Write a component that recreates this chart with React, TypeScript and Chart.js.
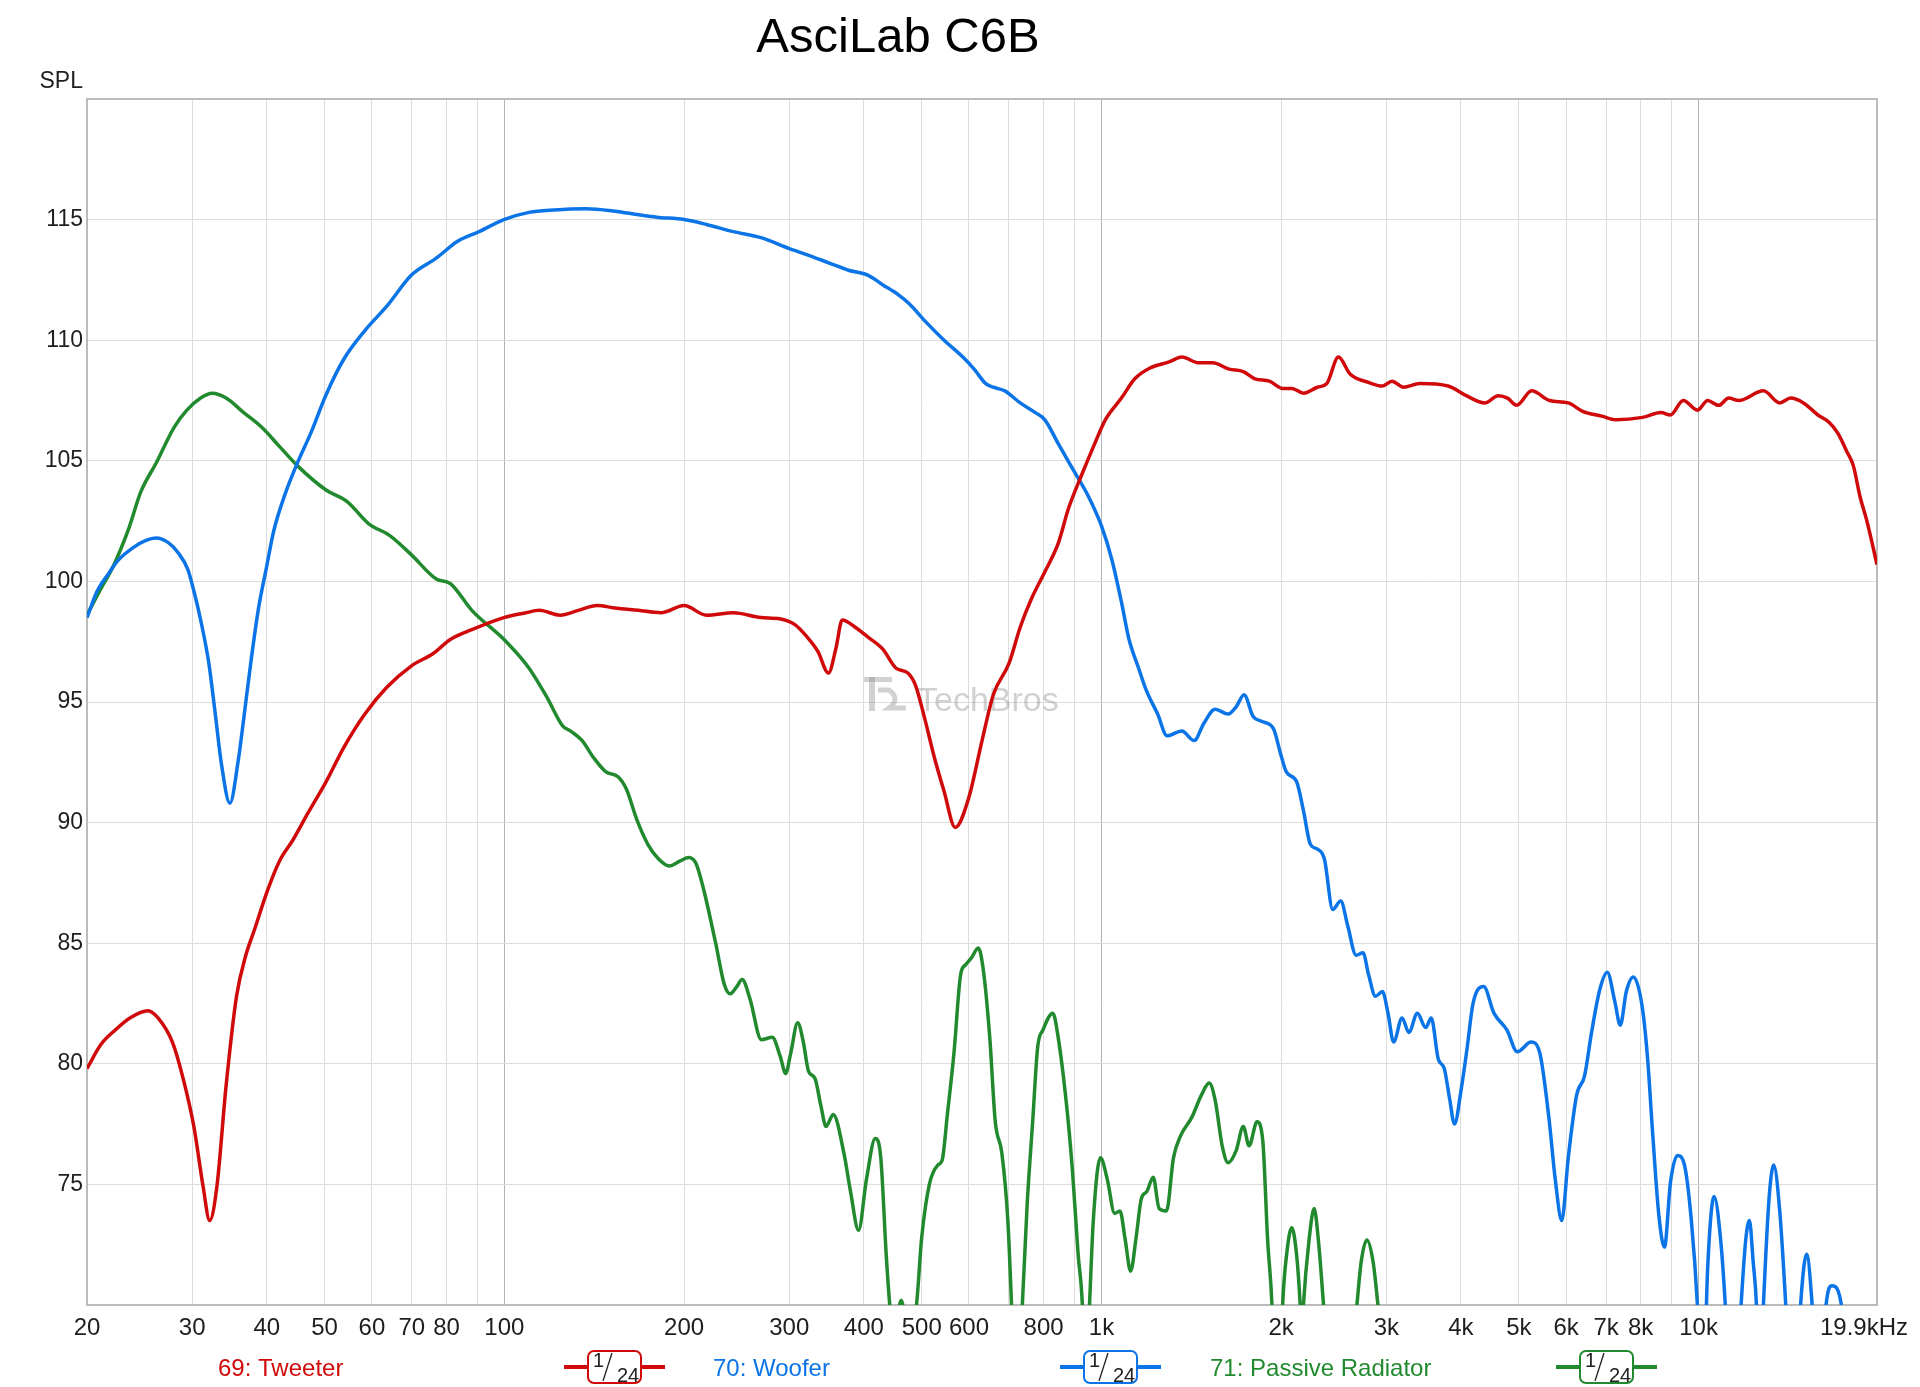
import React, { useEffect, useRef } from "react";
import Chart from "chart.js/auto";

const FONT = "'Liberation Sans', Arial, Helvetica, sans-serif";

const chartTitle = "AsciLab C6B";
const yAxisLabel = "SPL";
const seriesNames = ["69: Tweeter", "70: Woofer", "71: Passive Radiator"];
const seriesColors = ["#d00a0a", "#0b74e6", "#228a2e"];
const smoothingText = ["1", "24"];

// Tweeter
const tweeterFreq = [
  20, 21.1, 22.3, 23.6, 25.3, 26.3, 27.8, 28.9, 30.2, 31.3,
  32.1, 33, 34.2, 35.6, 36.9, 38.2, 40, 42, 44.3, 46.9,
  50.3, 53.8, 58.4, 63.5, 69.9, 75.9, 81.3, 88.2, 99.8, 108.7,
  114.4, 124, 133, 143, 153, 167.6, 183, 200, 218, 242,
  269, 289, 307, 320, 335, 349, 359, 368, 387, 406,
  430, 453, 474, 488, 506, 525, 545, 569, 599, 631,
  659, 700, 731, 764, 804, 847, 880, 926, 970, 1015,
  1080, 1137, 1206, 1298, 1363, 1456, 1536, 1636, 1728, 1807,
  1911, 2011, 2085, 2179, 2299, 2384, 2494, 2608, 2800, 2955,
  3066, 3205, 3411, 3807, 4083, 4385, 4620, 4786, 4960, 5254,
  5631, 6050, 6396, 6885, 7270, 8058, 8649, 8975, 9426, 9962,
  10356, 10810, 11236, 11677, 12842, 13675, 14259, 14985, 15846, 16537,
  17108, 17702, 18163, 18646, 19142, 19900,
];
const tweeterSpl = [
  79.8, 80.8, 81.4, 81.9, 82.2, 81.9, 80.9, 79.5, 77.4, 74.9,
  73.5, 74.9, 79.1, 82.8, 84.5, 85.6, 87.1, 88.4, 89.3, 90.4,
  91.7, 93.1, 94.5, 95.6, 96.5, 97.0, 97.6, 98.0, 98.5, 98.7,
  98.8, 98.6, 98.8, 99.0, 98.9, 98.8, 98.7, 99.0, 98.6, 98.7,
  98.5, 98.45, 98.2, 97.75, 97.1, 96.2, 97.2, 98.4, 98.1, 97.7,
  97.2, 96.4, 96.2, 95.7, 94.3, 92.7, 91.3, 89.8, 91.0, 93.4,
  95.3, 96.6, 98.1, 99.3, 100.4, 101.6, 103.0, 104.4, 105.6, 106.7,
  107.6, 108.4, 108.85, 109.1, 109.3, 109.06, 109.06, 108.8, 108.7, 108.4,
  108.3, 108.0, 108.0, 107.8, 108.05, 108.2, 109.3, 108.6, 108.25, 108.1,
  108.3, 108.05, 108.2, 108.1, 107.7, 107.4, 107.7, 107.6, 107.3, 107.9,
  107.5, 107.4, 107.05, 106.85, 106.7, 106.8, 107.0, 106.9, 107.5, 107.1,
  107.5, 107.3, 107.6, 107.5, 107.9, 107.4, 107.6, 107.4, 106.9, 106.6,
  106.15, 105.4, 104.8, 103.5, 102.5, 100.7,
];

// Woofer
const wooferFreq = [
  20, 20.8, 21.7, 22.6, 23.9, 25.1, 26.1, 27.4, 28.4, 29.5,
  30.2, 31.0, 32.0, 32.8, 33.6, 34.7, 35.8, 36.6, 37.6,
  38.7, 39.9, 41.1, 42.9, 45.0, 47.5, 50.2, 53.8, 58.4, 63.5,
  69.9, 76.9, 83.5, 90.7, 99.8, 110, 121, 137, 153, 168,
  180, 200, 218, 242, 269, 300, 325, 350, 377, 406,
  430, 456, 477, 506, 545, 586, 612, 640, 659, 689,
  731, 775, 804, 847, 898, 952, 1000, 1041, 1080, 1112,
  1154, 1188, 1242, 1288, 1363, 1430, 1483, 1550, 1630, 1681,
  1733, 1795, 1854, 1941, 1993, 2040, 2122, 2179, 2238, 2300,
  2362, 2440, 2516, 2586, 2670, 2742, 2801, 2877, 2955, 3019,
  3085, 3187, 3273, 3381, 3491, 3567, 3665, 3751, 3832, 3901,
  4007, 4094, 4191, 4367, 4543, 4777, 4970, 5243, 5415, 5613,
  5755, 5901, 6050, 6249, 6443, 6619, 6836, 7034, 7238, 7395,
  7569, 7776, 8031, 8205, 8384, 8582, 8768, 8975, 9220, 9472,
  9726, 9955, 10150, 10356, 10620, 10889, 11086, 11400, 11782, 11995,
  12168, 12344, 12502, 12650, 12842, 13123, 13359, 13675, 13997, 14400,
  14820, 15168, 15497, 15900, 16352, 16737, 17346, 18000, 19900,
];
const wooferSpl = [
  98.5, 99.6, 100.3, 100.9, 101.4, 101.7, 101.8, 101.6, 101.2, 100.5,
  99.6, 98.4, 96.6, 94.5, 92.4, 90.8, 92.5, 94.3, 96.6,
  98.8, 100.5, 102.1, 103.6, 104.9, 106.2, 107.7, 109.2, 110.4, 111.4,
  112.7, 113.4, 114.1, 114.5, 115.0, 115.3, 115.4, 115.45, 115.35, 115.2,
  115.1, 115.0, 114.8, 114.5, 114.25, 113.8, 113.5, 113.2, 112.9, 112.7,
  112.3, 111.9, 111.5, 110.8, 110.0, 109.3, 108.8, 108.2, 108.05, 107.9,
  107.4, 107.0, 106.7, 105.7, 104.6, 103.5, 102.3, 100.9, 99.15, 97.6,
  96.4, 95.5, 94.5, 93.6, 93.8, 93.4, 94.1, 94.7, 94.5, 94.8,
  95.3, 94.4, 94.2, 93.9, 92.9, 92.1, 91.7, 90.5, 89.1, 88.9,
  88.5, 86.4, 86.75, 85.7, 84.5, 84.6, 83.7, 82.8, 83.0, 82.1,
  80.9, 81.9, 81.3, 82.1, 81.5, 81.9, 80.2, 79.8, 78.5, 77.5,
  79.0, 80.6, 82.5, 83.2, 82.1, 81.4, 80.5, 80.9, 80.5, 77.8,
  75.2, 73.5, 76.1, 78.7, 79.5, 81.3, 83.1, 83.8, 82.6, 81.6,
  83.0, 83.6, 82.5, 80.4, 77.0, 73.7, 72.4, 75.1, 76.2, 75.8,
  73.5, 70.0, 65, 71.5, 74.5, 72.7, 70.0, 64, 70.0, 72.7,
  73.5, 71.8, 70.0, 66, 70.0, 74.4, 75.8, 73.9, 70.0, 64,
  70.0, 72.1, 70.0, 65, 70.0, 70.8, 70.0, 62, 60,
];

// Passive radiator
const radiatorFreq = [
  20, 21.1, 22.1, 23.5, 24.6, 26.1, 28.0, 29.4, 31.0, 32.4,
  34.2, 36.6, 39.2, 42.0, 45.0, 50.2, 54.6, 59.2, 64.3, 69.9,
  76.9, 81.3, 88.2, 99.8, 110, 117.8, 125.3, 129, 135, 141,
  148, 155, 160, 166.8, 173.9, 181.1, 188.9, 196.7, 203.6, 209.4,
  215.3, 225.9, 233.5, 239, 245, 250.2, 257.8, 269.4, 281, 289.8,
  295.9, 301.5, 309.9, 316.5, 323.1, 331.2, 338.7, 345.8, 355.4, 370.4,
  380, 391.9, 404, 418, 427, 436, 442, 448, 462, 476,
  490, 500, 515, 532, 541, 552, 566, 581, 592, 606,
  622, 634, 650, 664, 681, 697, 707, 722, 737, 751,
  767, 782, 798, 829, 845, 874, 894, 914, 929, 940,
  955, 969, 996, 1023, 1052, 1074, 1096, 1119, 1143, 1166,
  1191, 1221, 1249, 1285, 1320, 1356, 1418, 1470, 1515, 1550,
  1593, 1630, 1681, 1728, 1767, 1822, 1863, 1898, 1930, 1970,
  2011, 2047, 2083, 2122, 2152, 2165, 2179, 2227, 2271, 2308,
  2355, 2500, 2678, 2723, 2783, 2850, 2904, 3100, 19900,
];
const radiatorSpl = [
  98.6, 99.7, 100.6, 102.2, 103.7, 104.9, 106.4, 107.1, 107.6, 107.8,
  107.6, 107.0, 106.4, 105.6, 104.8, 103.8, 103.3, 102.4, 101.9, 101.1,
  100.1, 99.9, 98.8, 97.6, 96.4, 95.2, 94.0, 93.8, 93.4, 92.7,
  92.1, 91.9, 91.4, 90.1, 89.1, 88.5, 88.2, 88.4, 88.55, 88.3,
  87.3, 85.0, 83.3, 82.9, 83.2, 83.5, 82.7, 81.0, 81.1, 80.3,
  79.6, 80.4, 81.7, 80.95, 79.7, 79.4, 78.3, 77.4, 77.9, 76.3,
  74.7, 73.1, 75.2, 76.9, 76.1, 72.1, 70.0, 68.5, 70.2, 68.5,
  70.0, 72.8, 75.0, 75.8, 76.0, 77.9, 80.4, 83.7, 84.1, 84.4,
  84.8, 83.9, 81.1, 77.6, 76.3, 73.5, 70.0, 64, 70.0, 74.2,
  77.6, 80.7, 81.4, 82.1, 81.2, 78.3, 75.6, 72.1, 70.0, 66,
  70.0, 73.5, 76.1, 75.2, 73.8, 73.9, 72.7, 71.4, 72.8, 74.4,
  74.7, 75.3, 74.0, 73.9, 76.1, 77.0, 77.8, 78.7, 79.2, 78.5,
  76.6, 75.9, 76.4, 77.4, 76.6, 77.6, 76.8, 72.7, 70.0, 63,
  70.0, 72.3, 73.2, 72.1, 70.0, 68.5, 70.0, 72.7, 74.0, 72.7,
  70.0, 62, 70.0, 71.8, 72.7, 71.8, 70.0, 62, 60,
];

// axes
const gridFreqs = [
  20, 30, 40, 50, 60, 70, 80, 90, 100, 200, 300, 400, 500, 600, 700, 800, 900,
  1000, 2000, 3000, 4000, 5000, 6000, 7000, 8000, 9000, 10000, 19900,
];
const decadeFreqs = [100, 1000, 10000];
const xLabelFreqs = [
  20, 30, 40, 50, 60, 70, 80, 100, 200, 300, 400, 500, 600, 800, 1000, 2000,
  3000, 4000, 5000, 6000, 7000, 8000, 10000, 19900,
];
const xLabelTexts = [
  "20", "30", "40", "50", "60", "70", "80", "100", "200", "300", "400", "500",
  "600", "800", "1k", "2k", "3k", "4k", "5k", "6k", "7k", "8k", "10k", "19.9kHz",
];

const toPoints = (xs: number[], ys: number[]) => xs.map((x, i) => ({ x, y: ys[i] }));

// legend badge: line with the boxed 1/24 smoothing mark
function drawBadge(ctx: CanvasRenderingContext2D, x: number, color: string) {
  const y = 1367;
  ctx.strokeStyle = color;
  ctx.lineWidth = 4;
  ctx.beginPath();
  ctx.moveTo(x, y);
  ctx.lineTo(x + 101, y);
  ctx.stroke();
  const bx = x + 24;
  const by = 1351;
  ctx.beginPath();
  ctx.roundRect(bx, by, 53, 32, 6);
  ctx.fillStyle = "#fff";
  ctx.fill();
  ctx.lineWidth = 2;
  ctx.stroke();
  ctx.fillStyle = "#222";
  ctx.textAlign = "left";
  ctx.textBaseline = "alphabetic";
  ctx.font = `20px ${FONT}`;
  ctx.fillText(smoothingText[0], bx + 5, by + 16);
  ctx.strokeStyle = "#222";
  ctx.lineWidth = 1.3;
  ctx.beginPath();
  ctx.moveTo(bx + 24, by + 2);
  ctx.lineTo(bx + 15, by + 30);
  ctx.stroke();
  ctx.font = `20px ${FONT}`;
  ctx.fillText(smoothingText[1], bx + 29, by + 31);
}

const decorPlugin = {
  id: "decor",
  beforeDatasetsDraw(chart: Chart) {
    const { ctx, chartArea: a } = chart;
    ctx.save();
    // watermark
    ctx.fillStyle = "rgba(140,140,140,0.4)";
    ctx.fillRect(864, 677, 28, 5);
    ctx.fillRect(869, 677, 6, 34);
    ctx.strokeStyle = "rgba(140,140,140,0.4)";
    ctx.lineWidth = 5;
    ctx.beginPath();
    ctx.moveTo(878, 690);
    ctx.lineTo(889, 690);
    ctx.quadraticCurveTo(901, 699, 889, 708);
    ctx.lineTo(906, 708);
    ctx.stroke();
    ctx.font = `34px ${FONT}`;
    ctx.textAlign = "left";
    ctx.textBaseline = "alphabetic";
    ctx.fillText("TechBros", 917, 711);
    // frame
    ctx.strokeStyle = "#bbbbbb";
    ctx.lineWidth = 2;
    ctx.strokeRect(a.left, a.top, a.right - a.left, a.bottom - a.top);
    ctx.restore();
  },
  afterDraw(chart: Chart) {
    const { ctx } = chart;
    const xScale = chart.scales.x;
    ctx.save();
    ctx.fillStyle = "#000";
    ctx.textBaseline = "alphabetic";
    ctx.textAlign = "center";
    ctx.font = `49px ${FONT}`;
    ctx.fillText(chartTitle, 898, 52);

    ctx.fillStyle = "#1e1e1e";
    ctx.textAlign = "right";
    ctx.font = `23px ${FONT}`;
    ctx.fillText(yAxisLabel, 83, 88);

    ctx.font = `24px ${FONT}`;
    xLabelFreqs.forEach((f, i) => {
      const px = xScale.getPixelForValue(f);
      if (i === xLabelFreqs.length - 1) {
        ctx.textAlign = "right";
        ctx.fillText(xLabelTexts[i], chart.width - 12, 1335);
      } else {
        ctx.textAlign = "center";
        ctx.fillText(xLabelTexts[i], px, 1335);
      }
    });

    const textX = [218, 713, 1210];
    const badgeX = [564, 1060, 1556];
    seriesNames.forEach((name, i) => {
      ctx.fillStyle = seriesColors[i];
      ctx.textAlign = "left";
      ctx.font = `24px ${FONT}`;
      ctx.fillText(name, textX[i], 1376);
      drawBadge(ctx, badgeX[i], seriesColors[i]);
    });
    ctx.restore();
  },
};

const App: React.FC = () => {
  const canvasRef = useRef<HTMLCanvasElement | null>(null);
  const chartRef = useRef<Chart | null>(null);

  useEffect(() => {
    const oldMargin = document.body.style.margin;
    document.body.style.margin = "0";
    if (!canvasRef.current) return;
    const ctx = canvasRef.current.getContext("2d");
    if (!ctx) return;
    if (chartRef.current) chartRef.current.destroy();

    const seriesData = [
      toPoints(tweeterFreq, tweeterSpl),
      toPoints(wooferFreq, wooferSpl),
      toPoints(radiatorFreq, radiatorSpl),
    ];

    chartRef.current = new Chart(ctx, {
      type: "line",
      data: {
        datasets: seriesData.map((d, i) => ({
          label: seriesNames[i],
          data: d,
          borderColor: seriesColors[i],
          backgroundColor: seriesColors[i],
          borderWidth: 3.5,
          pointRadius: 0,
          cubicInterpolationMode: "monotone" as const,
          fill: false,
        })),
      },
      options: {
        responsive: false,
        animation: false,
        events: [],
        layout: { padding: { top: 99, right: 43, left: 0, bottom: 0 } },
        plugins: {
          legend: { display: false },
          title: { display: false },
          tooltip: { enabled: false },
        },
        scales: {
          x: {
            type: "logarithmic",
            min: 20,
            max: 19900,
            afterBuildTicks: (axis: any) => {
              axis.ticks = gridFreqs.map((v) => ({ value: v }));
            },
            afterFit: (axis: any) => {
              axis.height = 82;
            },
            ticks: { display: false },
            border: { display: false },
            grid: {
              drawTicks: false,
              lineWidth: 1,
              color: (c: any) =>
                decadeFreqs.includes(c.tick?.value) ? "#b4b4b4" : "#dcdcdc",
            },
          },
          y: {
            type: "linear",
            min: 70,
            max: 120,
            afterFit: (axis: any) => {
              axis.width = 87;
            },
            ticks: {
              stepSize: 5,
              padding: 4,
              color: "#1e1e1e",
              font: { family: FONT, size: 23 },
              callback: (v: any) => (v === 70 || v === 120 ? "" : String(v)),
            },
            border: { display: false },
            grid: { drawTicks: false, color: "#dcdcdc", lineWidth: 1 },
          },
        },
      },
      plugins: [decorPlugin],
    });

    return () => {
      document.body.style.margin = oldMargin;
      if (chartRef.current) {
        chartRef.current.destroy();
        chartRef.current = null;
      }
    };
  }, []);

  return (
    <div style={{ width: "1920px", height: "1387px", background: "#fff" }}>
      <canvas ref={canvasRef} width={1920} height={1387} style={{ display: "block" }} />
    </div>
  );
};

export default App;
